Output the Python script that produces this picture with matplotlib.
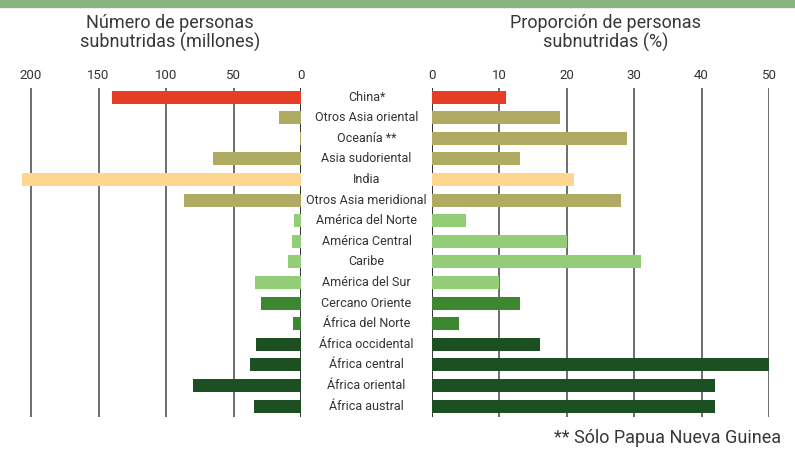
import matplotlib.pyplot as plt
from matplotlib.transforms import blended_transform_factory

plt.rcParams['font.family'] = ['Roboto', 'DejaVu Sans']

# datos
regiones = ["China*", "Otros Asia oriental", "Oceanía **", "Asia sudoriental", "India",
            "Otros Asia meridional", "América del Norte", "América Central", "Caribe",
            "América del Sur", "Cercano Oriente", "África del Norte", "África occidental",
            "África central", "África oriental", "África austral"]
millones = [140, 16, 1, 65, 207, 87, 5, 7, 10, 34, 30, 6, 33, 38, 80, 35]
proporcion = [11, 19, 29, 13, 21, 28, 5, 20, 31, 10, 13, 4, 16, 50, 42, 42]
grupos = ["china", "asia", "asia", "asia", "india", "asia", "amer", "amer", "amer",
          "amer_sur", "norte", "norte", "africa", "africa", "africa", "africa"]
colores_grupo = {"china": "#E63E25", "asia": "#AFAB62", "india": "#FDD790",
                 "amer": "#93CD78", "amer_sur": "#93CD78", "norte": "#3E8731",
                 "africa": "#1C4F22"}
colores = [colores_grupo[g] for g in grupos]

ticks_izq = [200, 150, 100, 50, 0]
ticks_der = [0, 10, 20, 30, 40, 50]

W, H = 795, 450
fig = plt.figure(figsize=(W / 100, H / 100), dpi=100)

y_bot = 1 - 417 / H
y_top = 1 - 88 / H
ax1 = fig.add_axes([17.5 / W, y_bot, (301 - 17.5) / W, y_top - y_bot])
ax2 = fig.add_axes([432 / W, y_bot, (769 - 432) / W, y_top - y_bot])

pos = list(range(len(regiones)))
ax1.barh(pos, millones, height=0.63, color=colores, zorder=3)
ax2.barh(pos, proporcion, height=0.63, color=colores, zorder=3)

ax1.set_xlim(210, 0)
ax2.set_xlim(0, 50)
for ax, tk in [(ax1, ticks_izq), (ax2, ticks_der)]:
    ax.set_ylim(15.53, -0.44)
    ax.set_xticks(tk)
    ax.xaxis.tick_top()
    ax.tick_params(axis='x', length=0, pad=4, labelsize=9.5, labelcolor="#333333")
    ax.set_yticks([])
    for s in ax.spines.values():
        s.set_visible(False)
    for t in tk:
        c = "#111111" if t == 0 else "#555555"
        ax.axvline(t, color=c, lw=1.2, zorder=1)

# etiquetas de regiones en el centro
tr = blended_transform_factory(fig.transFigure, ax1.transData)
for i, r in enumerate(regiones):
    fig.text(366.5 / W, i, r, transform=tr, ha="center", va="center",
             fontsize=9, color="#333333")

# titulos
fig.text(170 / W, 1 - 33 / H, "Número de personas\nsubnutridas (millones)",
         ha="center", va="center", fontsize=13, color="#383838", linespacing=1.1)
fig.text(606 / W, 1 - 33 / H, "Proporción de personas\nsubnutridas (%)",
         ha="center", va="center", fontsize=13, color="#383838", linespacing=1.1)
fig.text(781 / W, 1 - 438 / H, "** Sólo Papua Nueva Guinea", ha="right", va="center",
         fontsize=13, color="#383838")

# banda superior
fig.patches.append(plt.Rectangle((0, 1 - 7 / H), 1, 7 / H, transform=fig.transFigure,
                                 color="#8AB47E", zorder=0))

fig.savefig("out.png", dpi=100)
